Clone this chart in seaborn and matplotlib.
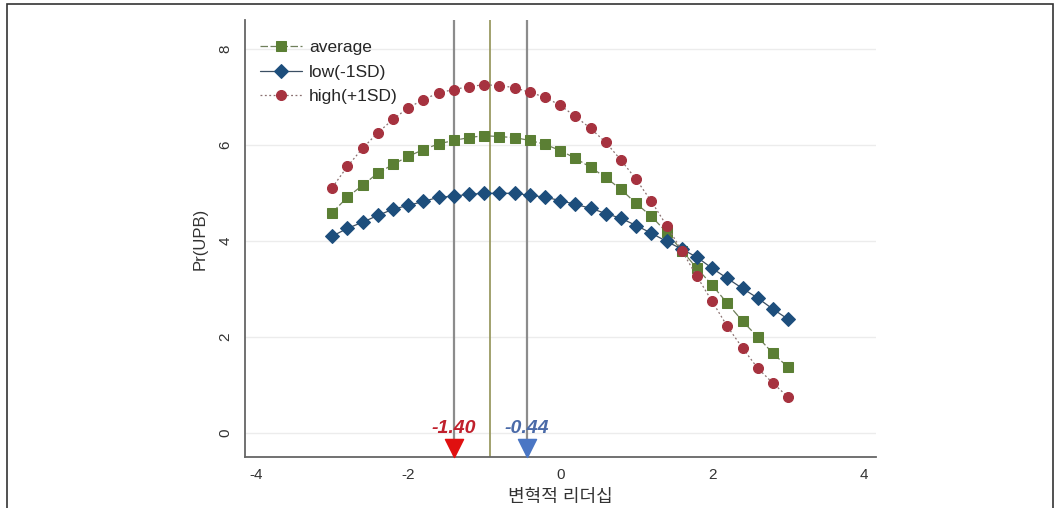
import matplotlib
matplotlib.use("Agg")
import matplotlib.pyplot as plt
from matplotlib.patches import Rectangle
import numpy as np
import pandas as pd
import seaborn as sns

# x grid of the margins plot (-3 .. 3, step 0.2)
x_vals = [-3.0, -2.8, -2.6, -2.4, -2.2, -2.0, -1.8, -1.6, -1.4, -1.2, -1.0,
          -0.8, -0.6, -0.4, -0.2, 0.0, 0.2, 0.4, 0.6, 0.8, 1.0,
          1.2, 1.4, 1.6, 1.8, 2.0, 2.2, 2.4, 2.6, 2.8, 3.0]

average = [4.59, 4.91, 5.16, 5.41, 5.59, 5.76, 5.90, 6.02, 6.09, 6.15, 6.19,
           6.17, 6.15, 6.09, 6.01, 5.88, 5.72, 5.53, 5.32, 5.07, 4.78,
           4.51, 4.18, 3.80, 3.43, 3.08, 2.70, 2.33, 2.00, 1.66, 1.37]
low = [4.10, 4.26, 4.39, 4.53, 4.66, 4.74, 4.82, 4.91, 4.93, 4.97, 4.99,
       4.99, 4.99, 4.95, 4.91, 4.84, 4.76, 4.68, 4.57, 4.47, 4.32,
       4.16, 3.99, 3.83, 3.66, 3.43, 3.22, 3.01, 2.81, 2.58, 2.37]
high = [5.11, 5.55, 5.93, 6.25, 6.53, 6.77, 6.94, 7.08, 7.15, 7.21, 7.25,
        7.23, 7.19, 7.09, 6.99, 6.82, 6.59, 6.34, 6.05, 5.68, 5.28,
        4.82, 4.32, 3.80, 3.26, 2.74, 2.22, 1.77, 1.35, 1.04, 0.75]

series_names = ['average', 'low(-1SD)', 'high(+1SD)']
ref_lines = [-1.40, -0.92, -0.44]        # vertical reference lines
marker_x = [-1.40, -0.44]                # triangle markers on the axis
marker_labels = ['-1.40', '-0.44']
x_ticks = [-4, -2, 0, 2, 4]
y_ticks = [0, 2, 4, 6, 8]

df = pd.DataFrame({
    'x': x_vals * 3,
    'y': average + low + high,
    'group': [series_names[0]] * len(x_vals) + [series_names[1]] * len(x_vals)
             + [series_names[2]] * len(x_vals),
})

sns.set_style('white')
plt.rcParams['font.family'] = ['Liberation Sans', 'Noto Sans CJK KR', 'DejaVu Sans']

fig = plt.figure(figsize=(10.6, 5.08), dpi=100)
ax = fig.add_axes([0.231, 0.100, 0.595, 0.861])

# faint horizontal grid
for yt in y_ticks:
    ax.axhline(yt, color='#ececec', lw=1.0, zorder=0)

# reference lines
ax.axvline(ref_lines[0], color='#8c8c8c', lw=1.6, zorder=1)
ax.axvline(ref_lines[1], color='#9a9a62', lw=1.3, zorder=1)
ax.axvline(ref_lines[2], color='#8c8c8c', lw=1.6, zorder=1)

styles = {
    'average': dict(color='#5b7f34', marker='s', ms=7.2, ls=(0, (6, 2)), lc='#6f7f5a'),
    'low(-1SD)': dict(color='#1d4e7c', marker='D', ms=6.8, ls='-', lc='#3b4f63'),
    'high(+1SD)': dict(color='#a6323f', marker='o', ms=7.2, ls=(0, (1.5, 2)), lc='#8a7070'),
}
for name in series_names:
    st = styles[name]
    sub = df[df['group'] == name]
    sns.lineplot(data=sub, x='x', y='y', ax=ax, color=st['lc'], lw=0.9,
                 linestyle=st['ls'], marker=st['marker'], markersize=st['ms'],
                 markerfacecolor=st['color'], markeredgecolor=st['color'],
                 label=name, zorder=3)

# triangles and labels at the cut points
tri_colors = ['#e01010', '#4a76c4']
txt_colors = ['#c0202c', '#4a6aa8']
for xv, lab, tc, txc in zip(marker_x, marker_labels, tri_colors, txt_colors):
    ax.scatter([xv], [-0.3], marker='v', s=170, color=tc, zorder=4, clip_on=False)
    ax.text(xv, 0.1, lab, color=txc, fontsize=14, style='italic',
            fontweight='bold', ha='center', va='center', zorder=4)

ax.set_xlim(-4.15, 4.15)
ax.set_ylim(-0.5, 8.6)
ax.set_xticks(x_ticks)
ax.set_yticks(y_ticks)
ax.set_xticklabels([str(t) for t in x_ticks], fontsize=11, color='#333333')
ax.set_yticklabels([str(t) for t in y_ticks], fontsize=11, color='#333333',
                   rotation=90, va='center')
ax.tick_params(axis='both', length=5, width=1, color='#555555', direction='out')
ax.tick_params(axis='x', pad=3)
ax.tick_params(axis='y', pad=4)

for side in ['top', 'right']:
    ax.spines[side].set_visible(False)
for side in ['left', 'bottom']:
    ax.spines[side].set_color('#666666')
    ax.spines[side].set_linewidth(1.3)

ax.set_xlabel('변혁적 리더십', fontsize=13, color='#333333', labelpad=5)
ax.set_ylabel('Pr(UPB)', fontsize=12, color='#333333', labelpad=8)

leg = ax.legend(loc='upper left', bbox_to_anchor=(0.0, 0.99), frameon=False,
                fontsize=12.5, handlelength=2.4, handletextpad=0.4,
                labelspacing=0.55, borderaxespad=0.5)

# outer frame around the whole picture
fig.patches.append(Rectangle((0.0066, -0.01), 0.9868, 1.003, transform=fig.transFigure,
                             fill=False, edgecolor='#333333', lw=1.2))

fig.savefig('out.png', dpi=100)
